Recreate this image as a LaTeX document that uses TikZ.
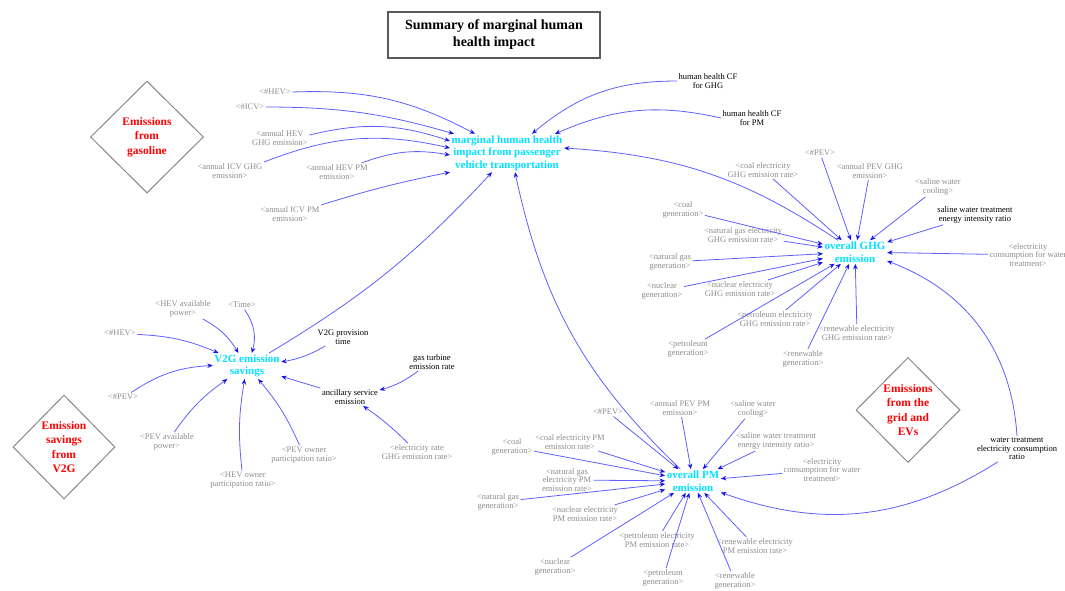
\documentclass[tikz,border=0pt]{standalone}
\usepackage{fontspec}
\setmainfont{Liberation Serif}
\usetikzlibrary{shapes.geometric,arrows.meta}
\definecolor{lnblue}{RGB}{95,95,255}
\definecolor{tipblue}{RGB}{20,20,235}
\definecolor{cyanv}{RGB}{0,225,255}
\definecolor{lblgray}{RGB}{140,140,140}
\definecolor{diagray}{RGB}{135,135,135}
\definecolor{boxgray}{RGB}{90,90,90}
\begin{document}
\begin{tikzpicture}[x=1pt,y=-1pt,
 lbl/.style={font=\fontsize{8.5}{8.6}\selectfont, text=lblgray, align=center, inner sep=1.5pt},
 blk/.style={lbl, text=black},
 var/.style={font=\bfseries\fontsize{11}{12.5}\selectfont, text=cyanv, align=center, inner sep=1.5pt},
 dia/.style={diamond, draw=diagray, line width=1pt, shape aspect=1, inner sep=0pt, align=center, text=red, font=\bfseries\fontsize{11.5}{14.3}\selectfont},
 lnk/.style={draw=lnblue, line width=0.8pt, -{Stealth[length=5.5pt,width=4.5pt,color=tipblue]}},
]
\useasboundingbox (0,0) rectangle (1065,590);

% title
\node[draw=boxgray, line width=1.1pt, minimum width=212pt, minimum height=46pt, align=center,
      font=\bfseries\fontsize{14}{17}\selectfont] (title) at (494,35) {Summary of marginal human\\health impact};

% diamonds
\node[dia, minimum width=113pt, minimum height=112pt] (d1) at (147,137) {Emissions\\from\\gasoline};
\node[dia, minimum width=102pt, minimum height=104pt] (d2) at (64,447) {Emission\\savings\\from\\V2G};
\node[dia, minimum width=104pt, minimum height=105pt] (d3) at (908,410) {Emissions\\from the\\grid and\\EVs};

% main variables
\node[var] (main) at (507,153) {marginal human health\\impact from passenger\\vehicle transportation};
\node[var] (ghg) at (855,252) {overall GHG\\emission};
\node[var] (v2g) at (247,366) {V2G emission\\savings};
\node[var] (pm) at (693,481) {overall PM\\emission};

% inputs to main
\node[lbl] (a1) at (275,92) {<\#HEV>};
\node[lbl] (a2) at (250,107) {<\#ICV>};
\node[lbl] (a3) at (280,138) {<annual HEV\\GHG emission>};
\node[lbl] (a4) at (230,171) {<annual ICV GHG\\emission>};
\node[lbl] (a5) at (337,172) {<annual HEV PM\\emission>};
\node[lbl] (a6) at (290,214) {<annual ICV PM\\emission>};
\node[blk] (hcf1) at (708,81) {human health CF\\for GHG};
\node[blk] (hcf2) at (752,118) {human health CF\\for PM};

% inputs to GHG
\node[lbl] (g1) at (820,153) {<\#PEV>};
\node[lbl] (g2) at (763,170) {<coal electricity\\GHG emission rate>};
\node[lbl] (g3) at (870,171) {<annual PEV GHG\\emission>};
\node[lbl] (g4) at (938,187) {<saline water\\cooling>};
\node[blk] (g5) at (975,215) {saline water treatment\\energy intensity ratio};
\node[lbl] (g6) at (683,210) {<coal\\generation>};
\node[lbl] (g7) at (743,235) {<natural gas electricity\\GHG emission rate>};
\node[lbl] (g8) at (670,262) {<natural gas\\generation>};
\node[lbl] (g9) at (1028,255) {<electricity\\consumption for water\\treatment>};
\node[lbl] (g10) at (662,291) {<nuclear\\generation>};
\node[lbl] (g11) at (740,289) {<nuclear electricity\\GHG emission rate>};
\node[lbl] (g12) at (775,319) {<petroleum electricity\\GHG emission rate>};
\node[lbl] (g13) at (688,349) {<petroleum\\generation>};
\node[lbl] (g14) at (857,333) {<renewable electricity\\GHG emission rate>};
\node[lbl] (g15) at (803,359) {<renewable\\generation>};
\node[blk] (wt) at (1017,449) {water treatment\\electricity consumption\\ratio};

% inputs to V2G
\node[lbl] (v1) at (183,309) {<HEV available\\power>};
\node[lbl] (v2) at (242,305) {<Time>};
\node[lbl] (v3) at (120,333) {<\#HEV>};
\node[lbl] (v4) at (123,397) {<\#PEV>};
\node[lbl] (v5) at (167,442) {<PEV available\\power>};
\node[lbl] (v6) at (243,480) {<HEV owner\\participation ratio>};
\node[lbl] (v7) at (304,455) {<PEV owner\\participation ratio>};
\node[blk] (v8) at (343,337) {V2G provision\\time};
\node[blk] (v9) at (350,397) {ancillary service\\emission};
\node[blk] (v10) at (432,362) {gas turbine\\emission rate};
\node[lbl] (v11) at (417,452) {<electricity rate\\GHG emission rate>};

% inputs to PM
\node[lbl] (p1) at (608,412) {<\#PEV>};
\node[lbl] (p2) at (680,408) {<annual PEV PM\\emission>};
\node[lbl] (p3) at (753,409) {<saline water\\cooling>};
\node[lbl] (p4) at (776,441) {<saline water treatment\\energy intensity ratio>};
\node[lbl] (p5) at (570,442) {<coal electricity PM\\emission rate>};
\node[lbl] (p6) at (512,447) {<coal\\generation>};
\node[lbl] (p7) at (567,480) {<natural gas\\electricity PM\\emission rate>};
\node[lbl] (p8) at (822,470) {<electricity\\consumption for water\\treatment>};
\node[lbl] (p9) at (498,502) {<natural gas\\generation>};
\node[lbl] (p10) at (585,514) {<nuclear electricity\\PM emission rate>};
\node[lbl] (p11) at (555,567) {<nuclear\\generation>};
\node[lbl] (p12) at (657,540) {<petroleum electricity\\PM emission rate>};
\node[lbl] (p13) at (663,578) {<petroleum\\generation>};
\node[lbl] (p14) at (755,546) {<renewable electricity\\PM emission rate>};
\node[lbl] (p15) at (735,581) {<renewable\\generation>};

% connectors to main
\draw[lnk] (a1.east) to[bend left=15] ([xshift=25pt]main.north west);
\draw[lnk] (a2.east) to[bend left=8] ([xshift=4pt]main.north west);
\draw[lnk] ([yshift=3pt]a3.east) to[bend left=16] ([yshift=12pt]main.west);
\draw[lnk] (a4.north east) to[bend left=17] ([yshift=5pt]main.west);
\draw[lnk] ([xshift=-8pt]a5.north east) to[bend left=15] ([yshift=-2pt]main.west);
\draw[lnk] (a6.north east) to[bend left=3] (main.south west);
\draw[lnk] (hcf1.west) to[bend right=20] ([xshift=82pt]main.north west);
\draw[lnk] (hcf2.west) to[bend right=18] ([xshift=105pt]main.north west);
\draw[lnk] (ghg) to[bend right=15] ([yshift=5pt]main.east);
\draw[lnk] (v2g) to[bend right=8] ([xshift=42pt]main.south west);
\draw[lnk] (pm) to[bend left=17] ([xshift=65pt]main.south west);

% connectors to GHG
\foreach \n in {g1,g2,g3,g4,g5,g6,g7,g8,g9,g10,g11,g12,g13,g14,g15}
  \draw[lnk] (\n) -- (ghg);
\draw[lnk] (wt.north) to[bend right=33] (ghg);

% connectors to V2G
\draw[lnk] (v1) to[bend left=15] (v2g);
\draw[lnk] (v2) to[bend left=25] (v2g);
\draw[lnk] (v3) to[bend left=10] (v2g);
\draw[lnk] (v4) to[bend left=15] (v2g);
\draw[lnk] (v5) to[bend left=10] (v2g);
\draw[lnk] (v6) to[bend left=8] (v2g);
\draw[lnk] (v7) to[bend right=8] (v2g);
\draw[lnk] (v8) to[bend left=10] (v2g);
\draw[lnk] (v9) -- (v2g);
\draw[lnk] (v10) to[bend left=10] (v9);
\draw[lnk] (v11) to[bend right=5] (v9);

% connectors to PM
\foreach \n in {p1,p2,p3,p4,p5,p6,p7,p8,p9,p10,p11,p12,p13,p14,p15}
  \draw[lnk] (\n) -- (pm);
\draw[lnk] ([xshift=-19pt]wt.south) to[bend left=26] (pm);
\end{tikzpicture}
\end{document}
